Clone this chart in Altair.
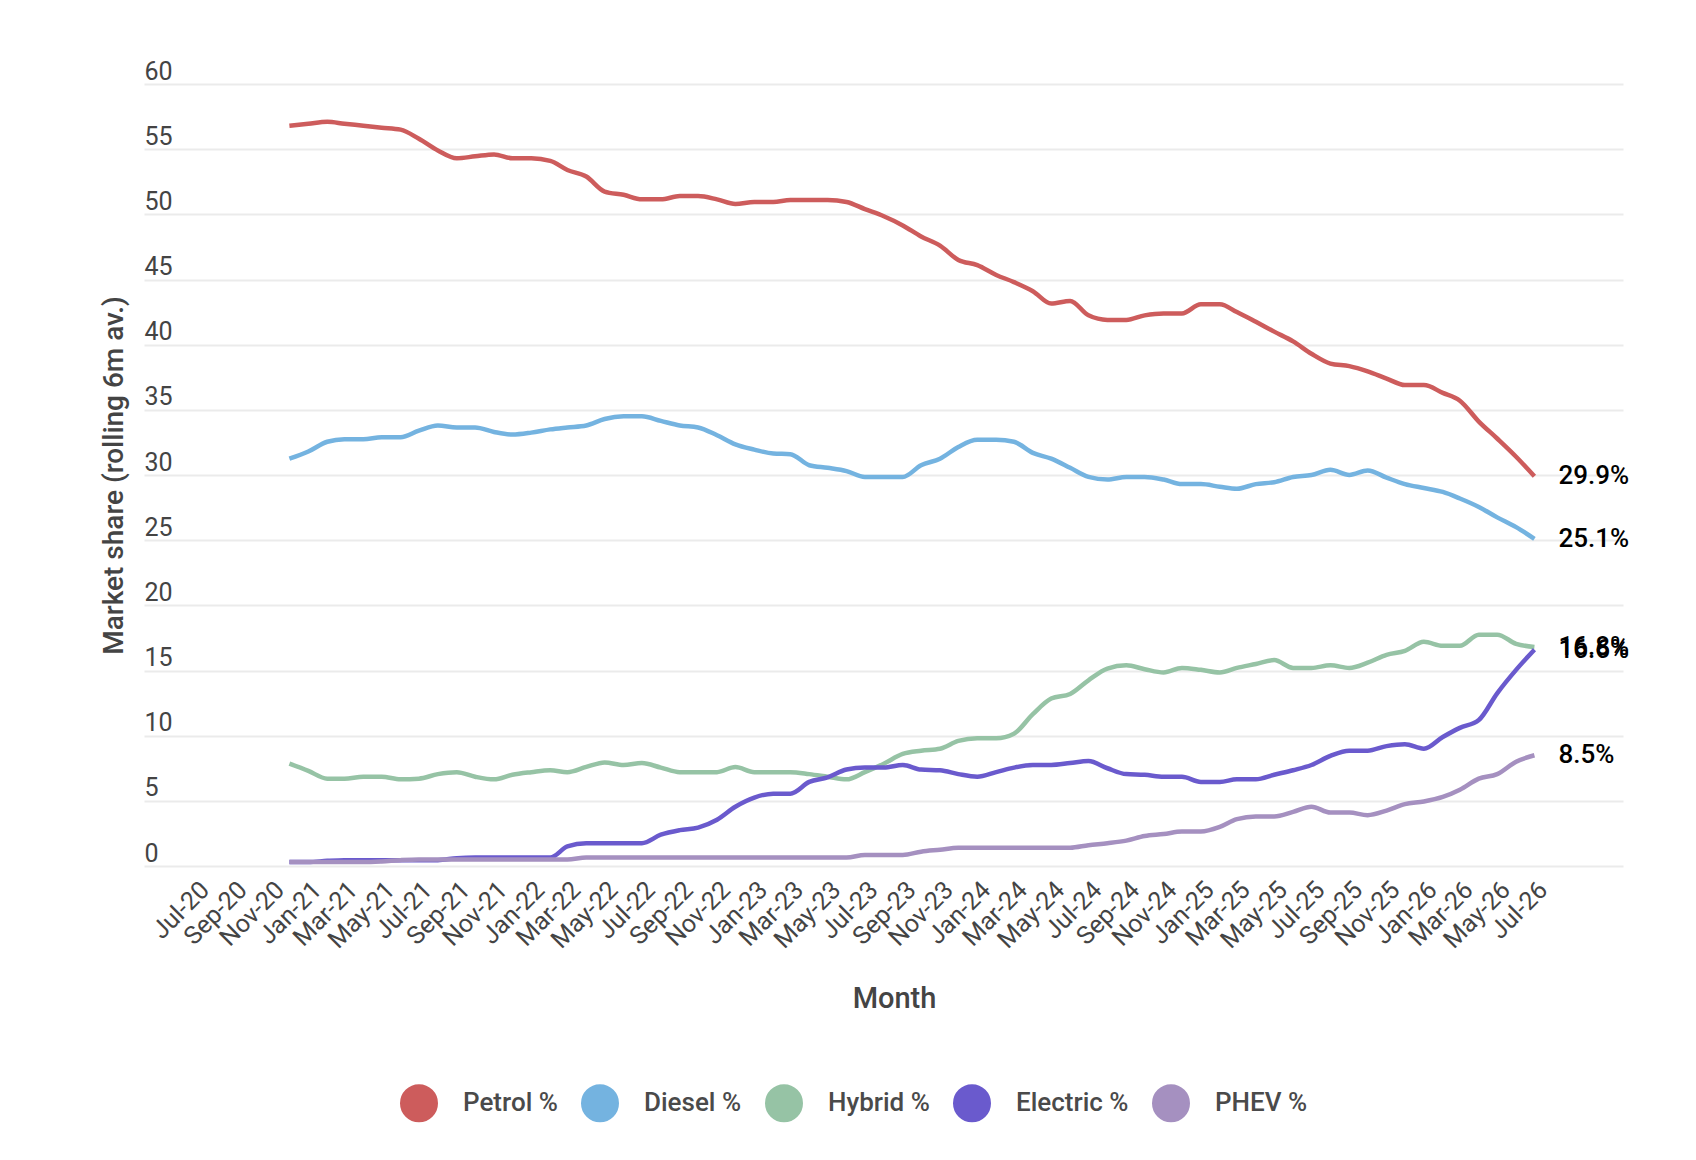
import altair as alt
import pandas as pd

# Months Dec-20 .. Jul-26
months = pd.date_range("2020-12-01", "2026-07-01", freq="MS").strftime("%Y-%m-%dT00:00:00").tolist()

series = ["Petrol %", "Diesel %", "Hybrid %", "Electric %", "PHEV %"]
colors = ["#cd5c5c", "#74b3e0", "#96c3a5", "#6a5acd", "#a590c0"]

petrol = [56.8, 56.95, 57.1, 56.95, 56.8, 56.65, 56.5, 55.8, 54.9, 54.3,
          54.45, 54.6, 54.3, 54.3, 54.1, 53.4, 52.9, 51.75, 51.5, 51.15,
          51.15, 51.4, 51.4, 51.15, 50.8, 50.95, 50.95, 51.1, 51.1, 51.1,
          50.95, 50.4, 49.85, 49.15, 48.3, 47.6, 46.5, 46.1, 45.35, 44.8,
          44.1, 43.15, 43.35, 42.25, 41.9, 41.9, 42.25, 42.4, 42.4, 43.1,
          43.1, 42.5, 41.75, 41.0, 40.25, 39.3, 38.55, 38.35, 37.95, 37.4,
          36.9, 36.9, 36.3, 35.7, 34.1, 32.8, 31.4, 29.9]
diesel = [31.25, 31.8, 32.55, 32.75, 32.75, 32.9, 32.9, 33.4, 33.8, 33.65,
          33.65, 33.3, 33.1, 33.25, 33.5, 33.65, 33.8, 34.3, 34.5, 34.5,
          34.15, 33.8, 33.65, 33.05, 32.35, 31.95, 31.65, 31.6, 30.75, 30.55,
          30.3, 29.85, 29.85, 29.85, 30.75, 31.25, 32.15, 32.7, 32.7, 32.55,
          31.7, 31.25, 30.55, 29.85, 29.65, 29.85, 29.85, 29.65, 29.3, 29.3,
          29.1, 28.95, 29.3, 29.45, 29.85, 30.0, 30.4, 30.0, 30.35, 29.8,
          29.3, 29.0, 28.7, 28.2, 27.55, 26.75, 26.0, 25.1]
hybrid = [7.85, 7.3, 6.7, 6.7, 6.85, 6.85, 6.65, 6.7, 7.05, 7.2,
          6.85, 6.65, 7.0, 7.2, 7.35, 7.2, 7.6, 7.95, 7.75, 7.9,
          7.55, 7.2, 7.2, 7.2, 7.6, 7.2, 7.2, 7.2, 7.05, 6.85,
          6.65, 7.2, 7.85, 8.6, 8.85, 9.0, 9.6, 9.8, 9.8, 10.15,
          11.65, 12.85, 13.2, 14.25, 15.15, 15.4, 15.1, 14.85, 15.2, 15.05,
          14.85, 15.2, 15.5, 15.8, 15.2, 15.2, 15.4, 15.2, 15.6, 16.2,
          16.5, 17.2, 16.9, 16.9, 17.75, 17.75, 17.05, 16.8]
electric = [0.3, 0.3, 0.4, 0.45, 0.45, 0.45, 0.45, 0.45, 0.45, 0.6,
            0.65, 0.65, 0.65, 0.65, 0.65, 1.5, 1.75, 1.75, 1.75, 1.75,
            2.4, 2.75, 2.95, 3.55, 4.55, 5.25, 5.55, 5.55, 6.45, 6.8,
            7.4, 7.55, 7.55, 7.75, 7.4, 7.35, 7.05, 6.85, 7.2, 7.55,
            7.75, 7.75, 7.9, 8.05, 7.5, 7.05, 7.0, 6.85, 6.85, 6.45,
            6.45, 6.65, 6.65, 7.0, 7.35, 7.75, 8.45, 8.85, 8.85, 9.2,
            9.35, 9.0, 9.9, 10.6, 11.2, 13.25, 15.05, 16.6]
phev = [0.3, 0.3, 0.3, 0.3, 0.3, 0.35, 0.45, 0.5, 0.5, 0.5,
        0.5, 0.5, 0.5, 0.5, 0.5, 0.5, 0.65, 0.65, 0.65, 0.65,
        0.65, 0.65, 0.65, 0.65, 0.65, 0.65, 0.65, 0.65, 0.65, 0.65,
        0.65, 0.85, 0.85, 0.85, 1.1, 1.25, 1.4, 1.4, 1.4, 1.4,
        1.4, 1.4, 1.4, 1.6, 1.75, 1.95, 2.3, 2.45, 2.65, 2.65,
        3.0, 3.6, 3.8, 3.8, 4.15, 4.55, 4.1, 4.1, 3.9, 4.25,
        4.75, 4.95, 5.3, 5.85, 6.7, 7.05, 8.0, 8.5]

y_ticks = list(range(0, 61, 5))

rows = []
for name, vals in zip(series, [petrol, diesel, hybrid, electric, phev]):
    for m, v in zip(months, vals):
        rows.append({"month": m, "series": name, "value": v})
df = pd.DataFrame(rows)
last = df[df["month"] == months[-1]].copy()

# x tick values: every 2 months from Jul-20 to Jul-26
tick_vals = []
for k in range(37):
    mi = 6 + 2 * k
    tick_vals.append(alt.DateTime(year=2020 + mi // 12, month=mi % 12 + 1, date=1))

x_scale = alt.Scale(domain=[alt.DateTime(year=2020, month=4, date=7),
                            alt.DateTime(year=2026, month=11, date=23)])

x_enc = alt.X(
    "month:T",
    scale=x_scale,
    title="Month",
    axis=alt.Axis(
        values=tick_vals, format="%b-%y", labelAngle=-45, labelAlign="right",
        labelBaseline="top", labelPadding=11, labelFontSize=25, labelColor="#444444",
        grid=False, domain=False, ticks=False, tickSize=0, labelOverlap=False,
        titleFontSize=29, titleFontWeight=500, titleColor="#444444",
        titleBaseline="alphabetic", titleY=141, titleX=750, titleAlign="center",
    ),
)
y_enc = alt.Y(
    "value:Q",
    scale=alt.Scale(domain=[0, 60]),
    title="Market share (rolling 6m av.)",
    axis=alt.Axis(
        values=y_ticks, labelAlign="left", labelBaseline="alphabetic", labelOffset=-5,
        labelPadding=0, tickSize=0, ticks=False, domain=False,
        labelFontSize=25, labelColor="#444444",
        gridColor="#ebebeb", gridWidth=2,
        titleFontSize=28, titleFontWeight=500, titleColor="#444444",
        titleX=-30, titleY=391, titleBaseline="middle", titleAngle=270,
    ),
)

lines = alt.Chart(df).mark_line(strokeWidth=4.5, interpolate="monotone").encode(
    x=x_enc,
    y=y_enc,
    color=alt.Color(
        "series:N",
        scale=alt.Scale(domain=series, range=colors),
        legend=alt.Legend(
            orient="none", legendX=256, legendY=1000, direction="horizontal",
            title=None, symbolType="circle", symbolSize=361, symbolStrokeWidth=19,
            labelFontSize=26, labelFontWeight=500, labelColor="#4a4a4a", labelOffset=25,
            columnPadding=-6, padding=0, symbolOpacity=1,
        ),
    ),
    detail="series:N",
)

labels = alt.Chart(last).transform_calculate(
    label="format(datum.value, '.1f') + '%'"
).mark_text(align="left", baseline="middle", dx=24, fontSize=26, fontWeight=500,
            color="#000000").encode(
    x=alt.X("month:T", scale=x_scale),
    y=alt.Y("value:Q", scale=alt.Scale(domain=[0, 60])),
    text="label:N",
)

chart = alt.layer(lines, labels).properties(
    width=1479,
    height=782,
    autosize=alt.AutoSizeParams(type="none"),
    padding={"left": 136, "top": 76, "right": 65, "bottom": 282},
).configure(
    font="Roboto",
    background="white",
).configure_view(stroke=None)

chart.save("out.html", embed_options={"renderer": "svg", "actions": False})
